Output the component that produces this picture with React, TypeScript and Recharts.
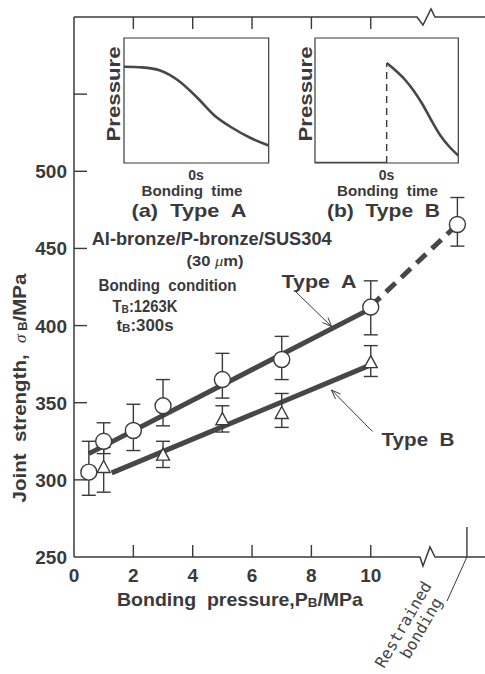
import React from 'react';
import {
  ComposedChart, LineChart, Line, Scatter, XAxis, YAxis, ErrorBar, ReferenceArea, ReferenceLine,
} from 'recharts';

// joint strength vs bonding pressure, Type A (circles)
const pressureA = [0.5, 1, 2, 3, 5, 7, 10];
const strengthA = [305, 325, 332, 348, 365, 378, 412];
const errLowA = [15, 8, 13, 13, 12, 13, 18];
const errHighA = [20, 12, 17, 17, 17, 15, 17];

// Type B (triangles)
const pressureB = [1, 3, 5, 7, 10];
const strengthB = [308, 316, 339, 343, 376];
const errLowB = [16, 8, 8, 9, 9];
const errHighB = [13, 9, 9, 13, 11];

// restrained bonding, drawn past the axis break
const restrainedX = 12.92;
const restrainedStrength = 465.5;
const restrainedErr = [14, 17.5];
const restrainedTickX = 13.24;

// fitted lines
const fitA = [[0.5, 317], [10, 411]];
const fitB = [[1.27, 304.5], [10, 374.5]];
const fitDash = [[10, 412.5], [12.92, 465.5]];

const xTicks = [0, 2, 4, 6, 8, 10];
const yTicks = [250, 300, 350, 400, 450, 500, 550];
const rightTicks = [300, 350, 400, 450, 500];

// inset pressure profiles
const insetTimeA = [0, 0.5, 1, 1.5, 2, 2.5, 3, 3.5, 4];
const insetPressureA = [0.77, 0.765, 0.74, 0.66, 0.53, 0.38, 0.28, 0.2, 0.14];
const insetTimeB = [2, 2.25, 2.5, 2.75, 3, 3.25, 3.5, 3.75, 4];
const insetPressureB = [0.8, 0.74, 0.67, 0.58, 0.47, 0.34, 0.22, 0.13, 0.06];
const insetFlatB = [[0, 0], [2, 0]];
const insetTicks = [1, 2, 3];

const W = 485, H = 674;
const L = 74, R = 485, T = 17, B = 557;
const XMAX = 13.85, YMIN = 250, YMAX = 600;
const INK = '#3a3a3a';
const LINE = '#474747';
const SANS = '"Liberation Sans", Arial, sans-serif';

const sx = (v: number) => L + (v * (R - L)) / XMAX;

const pts = (xs: number[], ys: number[]) => xs.map((x, i) => ({ x, y: ys[i] }));
const seriesA = pressureA.map((x, i) => ({ x, y: strengthA[i], err: [errLowA[i], errHighA[i]] }));
const seriesB = pressureB.map((x, i) => ({ x, y: strengthB[i], err: [errLowB[i], errHighB[i]] }));
const seriesR = [{ x: restrainedX, y: restrainedStrength, err: restrainedErr }];
const toXY = (a: number[][]) => a.map(([x, y]) => ({ x, y }));

const LeftTick = (p: any) => {
  const v = p.payload.value;
  return (
    <g>
      {v > 250 && <line x1={p.x} x2={p.x + 13} y1={p.y} y2={p.y} stroke={INK} strokeWidth={1.4} />}
      {v <= 500 && (
        <text x={p.x - 7} y={p.y + 7} textAnchor="end" fontFamily={SANS} fontWeight="bold" fontSize={19} fill={INK}>
          {v}
        </text>
      )}
    </g>
  );
};

const BottomTick = (p: any) => {
  const v = p.payload.value;
  return (
    <g>
      {v > 0 && <line x1={p.x} x2={p.x} y1={p.y} y2={p.y - 12} stroke={INK} strokeWidth={1.4} />}
      <text x={p.x} y={p.y + 25} textAnchor="middle" fontFamily={SANS} fontWeight="bold" fontSize={19} fill={INK}>
        {v}
      </text>
    </g>
  );
};

const TopTick = (p: any) => <line x1={p.x} x2={p.x} y1={p.y} y2={p.y + 12} stroke={INK} strokeWidth={1.4} />;
const RightTick = (p: any) => <line x1={p.x - 11} x2={p.x} y1={p.y} y2={p.y} stroke={INK} strokeWidth={1.4} />;

const Ring = (p: any) => <circle cx={p.cx} cy={p.cy} r={8} fill="#fff" stroke={INK} strokeWidth={1.4} />;
const Tri = (p: any) => (
  <path
    d={`M${p.cx},${p.cy - 7} L${p.cx + 6.5},${p.cy + 5} L${p.cx - 6.5},${p.cy + 5} Z`}
    fill="#fff"
    stroke={INK}
    strokeWidth={1.4}
  />
);

const InsetBottomTick = (p: any) => <line x1={p.x} x2={p.x} y1={p.y} y2={p.y - 4} stroke={INK} strokeWidth={1.2} />;
const InsetTopTick = (p: any) => <line x1={p.x} x2={p.x} y1={p.y} y2={p.y + 4} stroke={INK} strokeWidth={1.2} />;

function Inset({ left, top, w, children }: any) {
  return (
    <div style={{ position: 'absolute', left: left - 2, top: top - 2 }}>
      <LineChart width={w + 4} height={129} margin={{ top: 2, right: 2, bottom: 2, left: 2 }}>
        <XAxis xAxisId="b" dataKey="x" type="number" domain={[0, 4]} ticks={insetTicks} interval={0} height={0}
          tickSize={0} tickMargin={0} axisLine={false} tickLine={false} tick={InsetBottomTick} allowDataOverflow />
        <XAxis xAxisId="t" orientation="top" dataKey="x" type="number" domain={[0, 4]} ticks={insetTicks} interval={0}
          height={0} tickSize={0} tickMargin={0} axisLine={false} tickLine={false} tick={InsetTopTick} allowDataOverflow />
        <YAxis yAxisId="l" dataKey="y" type="number" domain={[0, 1]} hide allowDataOverflow />
        <ReferenceArea xAxisId="b" yAxisId="l" x1={0} x2={4} y1={0} y2={1} fill="none" stroke={INK} strokeWidth={1.2} fillOpacity={0} />
        {children}
      </LineChart>
    </div>
  );
}

// bold label text; keeps double spaces and stretches glyphs to the measured width
const Label = ({ children, w, size, ...rest }: any) => (
  <text
    textAnchor="middle"
    fontFamily={SANS}
    fontWeight="bold"
    fill={INK}
    fontSize={size}
    textLength={w}
    lengthAdjust="spacingAndGlyphs"
    style={{ whiteSpace: 'pre' }}
    {...rest}
  >
    {children}
  </text>
);

export default function App() {
  return (
    <div style={{ position: 'absolute', left: 0, top: 0, width: W, height: H, background: '#fff', overflow: 'hidden' }}>
      <div style={{ position: 'absolute', left: 0, top: 0 }}>
        <ComposedChart width={W} height={H} margin={{ top: 0, right: 0, bottom: 0, left: 0 }}>
          <XAxis xAxisId="b" dataKey="x" type="number" domain={[0, XMAX]} ticks={xTicks} interval={0} height={H - B}
            tickSize={0} tickMargin={0} axisLine={false} tickLine={false} tick={BottomTick} allowDataOverflow />
          <XAxis xAxisId="t" orientation="top" dataKey="x" type="number" domain={[0, XMAX]} ticks={[2, 4, 6, 8, 10]}
            interval={0} height={T} tickSize={0} tickMargin={0} axisLine={false} tickLine={false} tick={TopTick} allowDataOverflow />
          <YAxis yAxisId="l" dataKey="y" type="number" domain={[YMIN, YMAX]} ticks={yTicks} interval={0} width={L}
            tickSize={0} tickMargin={0} axisLine={{ stroke: INK, strokeWidth: 1.5 }} tickLine={false} tick={LeftTick} allowDataOverflow />
          <YAxis yAxisId="r" orientation="right" dataKey="y" type="number" domain={[YMIN, YMAX]} ticks={rightTicks}
            interval={0} width={0} tickSize={0} tickMargin={0} axisLine={false} tickLine={false} tick={RightTick} allowDataOverflow />

          <Line xAxisId="b" yAxisId="l" data={toXY(fitA)} dataKey="y" stroke={LINE} strokeWidth={5} dot={false}
            activeDot={false} isAnimationActive={false} />
          <Line xAxisId="b" yAxisId="l" data={toXY(fitB)} dataKey="y" stroke={LINE} strokeWidth={5} dot={false}
            activeDot={false} isAnimationActive={false} />
          <Line xAxisId="b" yAxisId="l" data={toXY(fitDash)} dataKey="y" stroke={LINE} strokeWidth={5} strokeDasharray="13 8"
            dot={false} activeDot={false} isAnimationActive={false} />
          <Line xAxisId="t" yAxisId="r" data={[]} dataKey="y" stroke="none" dot={false} activeDot={false} isAnimationActive={false} />

          <Scatter xAxisId="b" yAxisId="l" data={seriesB} dataKey="y" shape={Tri} isAnimationActive={false}>
            <ErrorBar dataKey="err" direction="y" width={7} stroke={INK} strokeWidth={1.4} />
          </Scatter>
          <Scatter xAxisId="b" yAxisId="l" data={seriesA} dataKey="y" shape={Ring} isAnimationActive={false}>
            <ErrorBar dataKey="err" direction="y" width={7} stroke={INK} strokeWidth={1.4} />
          </Scatter>
          <Scatter xAxisId="b" yAxisId="l" data={seriesR} dataKey="y" shape={Ring} isAnimationActive={false}>
            <ErrorBar dataKey="err" direction="y" width={7} stroke={INK} strokeWidth={1.4} />
          </Scatter>
        </ComposedChart>
      </div>

      <Inset left={124.3} top={38.3} w={144.7}>
        <Line xAxisId="b" yAxisId="l" data={pts(insetTimeA, insetPressureA)} dataKey="y" type="monotone" stroke={LINE}
          strokeWidth={2.6} dot={false} activeDot={false} isAnimationActive={false} />
      </Inset>
      <Inset left={315} top={37.7} w={143.3}>
        <ReferenceLine xAxisId="b" yAxisId="l" segment={[{ x: 2, y: 0 }, { x: 2, y: insetPressureB[0] }]} stroke={INK}
          strokeWidth={1.4} strokeDasharray="7 5" />
        <Line xAxisId="b" yAxisId="l" data={toXY(insetFlatB)} dataKey="y" stroke={LINE} strokeWidth={2.6} dot={false}
          activeDot={false} isAnimationActive={false} />
        <Line xAxisId="b" yAxisId="l" data={pts(insetTimeB, insetPressureB)} dataKey="y" type="monotone" stroke={LINE}
          strokeWidth={2.6} dot={false} activeDot={false} isAnimationActive={false} />
      </Inset>

      <svg width={W} height={H} style={{ position: 'absolute', left: 0, top: 0, pointerEvents: 'none' }}>
        {/* frame with axis breaks */}
        <polyline points={`${L},${T} 417,${T} 423,${T + 8} 431,${T - 8} 435,${T} ${R},${T}`} fill="none" stroke={INK} strokeWidth={1.5} />
        <polyline points={`${L},${B} 420,${B} 423,${B + 9} 430,${B - 10} 435,${B} ${R},${B}`} fill="none" stroke={INK} strokeWidth={1.5} />
        <line x1={sx(restrainedTickX)} x2={sx(restrainedTickX)} y1={B - 30} y2={B} stroke={INK} strokeWidth={1.4} />
        <line x1={sx(restrainedTickX)} y1={B} x2={447} y2={601} stroke={INK} strokeWidth={1} />

        {/* axis titles */}
        <Label x={240} y={606} size={19} w={246}>
          Bonding  pressure,P<tspan fontSize={13} dy={1}>B</tspan><tspan dy={-1}>/MPa</tspan>
        </Label>
        <Label transform="translate(26,388) rotate(-90)" size={19} w={229}>
          Joint  strength,  <tspan fontFamily='"Liberation Serif", serif' fontStyle="italic" fontWeight="normal" fontSize={16}>σ</tspan>
          <tspan fontSize={12} dy={1}> B</tspan><tspan dy={-1}>/MPa</tspan>
        </Label>

        {/* restrained bonding */}
        <g fontFamily='"DejaVu Sans Mono", monospace' fontSize={16} fill="#444">
          <text transform="translate(384,669) rotate(-60)">Restrained</text>
          <text transform="translate(409,660) rotate(-60)">bonding</text>
        </g>

        {/* inset labels */}
        <Label transform="translate(120,94) rotate(-90)" size={18} w={95}>Pressure</Label>
        <Label transform="translate(311.5,94) rotate(-90)" size={18} w={95}>Pressure</Label>
        <Label x={196} y={180} size={14}>0s</Label>
        <Label x={386.5} y={180} size={14}>0s</Label>
        <Label x={192} y={195.5} size={15} w={101}>Bonding  time</Label>
        <Label x={387.5} y={195.5} size={15} w={101}>Bonding  time</Label>
        <Label x={189} y={216.5} size={19} w={115}>(a)  Type  A</Label>
        <Label x={383.5} y={216.5} size={19} w={113}>(b)  Type  B</Label>

        {/* materials and condition */}
        <Label x={211.7} y={245} size={18} w={240}>Al-bronze/P-bronze/SUS304</Label>
        <Label x={215} y={266} size={15} w={57}>
          (30 <tspan fontFamily='"Liberation Serif", serif' fontStyle="italic" fontWeight="normal">μ</tspan>m)
        </Label>
        <Label x={167.5} y={291} size={16} w={138}>Bonding  condition</Label>
        <Label x={145} y={311.5} size={16} w={65}>
          T<tspan fontSize={11} dy={1}>B</tspan><tspan dy={-1}>:1263K</tspan>
        </Label>
        <Label x={145} y={331} size={16} w={57}>
          t<tspan fontSize={11} dy={1}>B</tspan><tspan dy={-1}>:300s</tspan>
        </Label>

        {/* series annotations */}
        <Label x={319} y={288} size={19} w={75}>Type  A</Label>
        <Label x={418} y={446} size={19} w={73}>Type  B</Label>
        <g stroke={INK} strokeWidth={1} fill="none">
          <line x1={295} y1={291} x2={331.5} y2={326.5} />
          <polyline points="322.5,322.5 331.5,326.5 328,317.5" />
          <line x1={372.5} y1={431.5} x2={331.5} y2={390} />
          <polyline points="335.5,399 331.5,390 340.5,394" />
        </g>
      </svg>
    </div>
  );
}
